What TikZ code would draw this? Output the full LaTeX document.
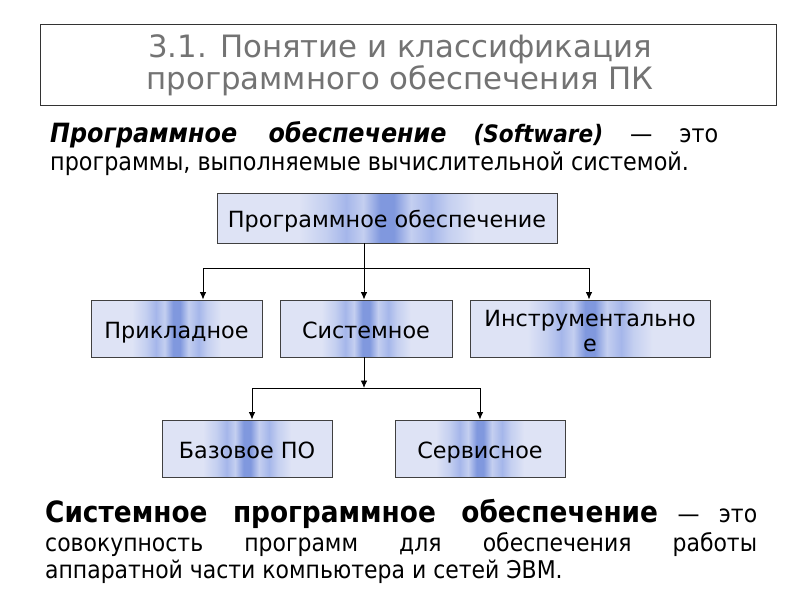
\documentclass[tikz,border=0pt]{standalone}
\usepackage{fontspec}
\setmainfont{DejaVu Sans}
\newfontfamily\cond{DejaVu Sans Condensed}
\usetikzlibrary{arrows.meta}
\definecolor{lt}{RGB}{222,227,245}
\definecolor{mdl}{RGB}{196,207,240}
\definecolor{md}{RGB}{165,182,234}
\definecolor{dk}{RGB}{128,152,222}
\definecolor{ttl}{RGB}{115,115,115}
\pgfdeclarehorizontalshading{stripes}{100bp}{color(0bp)=(lt); color(37bp)=(lt); color(41bp)=(mdl); color(44bp)=(md); color(46.5bp)=(mdl); color(49bp)=(dk); color(51bp)=(dk); color(53.5bp)=(mdl); color(56.5bp)=(md); color(59bp)=(mdl); color(63bp)=(lt); color(100bp)=(lt)}
\tikzset{
  box/.style={draw=black!75, line width=0.9pt, shading=stripes, font=\fontsize{22.3}{25}\selectfont, align=center, inner sep=2pt},
  one/.style={text height=19pt, text depth=0pt},
  arr/.style={line width=0.9pt, -{Latex[length=7.5pt,width=6.5pt]}},
  ln/.style={line width=0.9pt},
  txt/.style={anchor=base west, inner sep=0pt},
  ttltxt/.style={anchor=base, inner sep=0pt, text=ttl, font=\fontsize{30.8}{32}\selectfont},
}
\begin{document}
\begin{tikzpicture}[x=1pt,y=-1pt]
\useasboundingbox (0,0) rectangle (800,600);
\fill[white] (0,0) rectangle (800,600);
% title
\draw[line width=1pt, draw=black!80] (40,24) rectangle (776,105);
\node[ttltxt] (title1) at (400,57) {3.1. Понятие и классификация};
\node[ttltxt] (title2) at (400,89) {программного обеспечения ПК};
% definition
\node[txt, font=\cond\fontsize{24.8}{28}\selectfont] (def1) at (50,142) {\makebox[668pt][s]{{\fontsize{26.5}{28}\selectfont\bfseries\itshape Программное обеспечение} {\fontsize{24}{26}\selectfont\bfseries\itshape(Software)} — это}};
\node[txt, font=\cond\fontsize{24.8}{28}\selectfont] (def2) at (50,170) {программы, выполняемые вычислительной системой.};
% boxes
\node[box, one, minimum width=340pt, minimum height=50pt] (top) at (387,218) {Программное обеспечение};
\node[box, one, minimum width=171pt, minimum height=57pt] (prik) at (176.5,328.5) {Прикладное};
\node[box, one, minimum width=172pt, minimum height=57pt] (sys) at (366,328.5) {Системное};
\node[box, minimum width=240pt, minimum height=57pt, text width=230pt] (instr) at (590,328.5) {\rule{0pt}{21pt}Инструментально\\е};
\node[box, one, minimum width=170pt, minimum height=57pt] (baz) at (247,448.5) {Базовое ПО};
\node[box, one, minimum width=170pt, minimum height=57pt] (serv) at (480,448.5) {Сервисное};
% connectors
\coordinate (j1) at (364,268);
\coordinate (la) at (203,268);
\coordinate (ra) at (589,268);
\draw[ln] (j1 |- top.south) -- (j1);
\draw[ln] (la) -- (ra);
\draw[arr] (la) -- (la |- prik.north);
\draw[arr] (j1) -- (j1 |- sys.north);
\draw[arr] (ra) -- (ra |- instr.north);
\coordinate (j2) at (364,388);
\coordinate (lb) at (252,388);
\coordinate (rb) at (480,388);
\draw[arr] (j2 |- sys.south) -- (j2);
\draw[ln] (lb) -- (rb);
\draw[arr] (lb) -- (lb |- baz.north);
\draw[arr] (rb) -- (rb |- serv.north);
% bottom text
\node[txt, font=\cond\fontsize{24.4}{28}\selectfont] (b1) at (45,522) {\makebox[712pt][s]{{\fontsize{29.3}{32}\selectfont\bfseries Системное программное обеспечение} — это}};
\node[txt, font=\cond\fontsize{24.4}{28}\selectfont] (b2) at (45,551) {\makebox[712pt][s]{совокупность программ для обеспечения работы}};
\node[txt, font=\cond\fontsize{24.4}{28}\selectfont] (b3) at (45,578) {аппаратной части компьютера и сетей ЭВМ.};
\end{tikzpicture}
\end{document}
